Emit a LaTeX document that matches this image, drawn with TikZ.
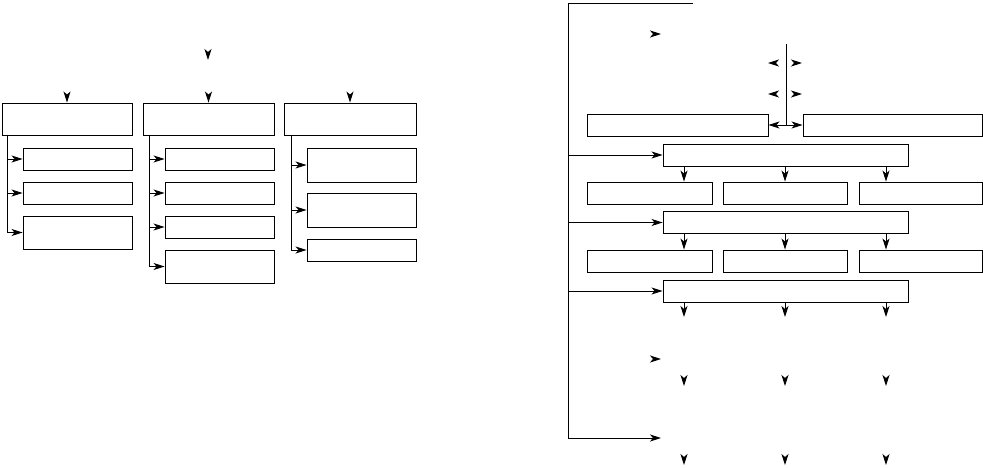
\documentclass[tikz,border=0pt]{standalone}
\usetikzlibrary{positioning}
\usetikzlibrary{calc}
\usetikzlibrary{arrows.meta}

\begin{document}
\begin{tikzpicture}[x=1pt,y=-1pt,>={Stealth[length=11pt,width=7pt,inset=3pt]},
				line width=0.9pt]
				\tikzstyle{box}=[draw,rectangle,inner sep=0pt,minimum height=22pt]
				\tikzstyle{ghost}=[draw=white,-{Stealth[length=11pt,width=7pt,inset=3pt,color=black]}]
				\useasboundingbox (0,0) rectangle (983,468);
				
				% left panel
				\node[box,minimum width=130pt,minimum height=32pt] (L1) at (67,119) {};
				\node[box,minimum width=131pt,minimum height=32pt] (L2) at (208.5,119) {};
				\node[box,minimum width=132pt,minimum height=32pt] (L3) at (350,119) {};
				
				\node[box,minimum width=109pt]                  (a1) at (77.5,159) {};
				\node[box,minimum width=109pt]                  (a2) at (77.5,193) {};
				\node[box,minimum width=109pt,minimum height=33pt] (a3) at (77.5,232.5) {};
				
				\node[box,minimum width=109pt]                  (b1) at (219.5,159) {};
				\node[box,minimum width=109pt]                  (b2) at (219.5,193) {};
				\node[box,minimum width=109pt]                  (b3) at (219.5,227) {};
				\node[box,minimum width=109pt,minimum height=33pt] (b4) at (219.5,266.5) {};
				
				\node[box,minimum width=109pt,minimum height=34pt] (c1) at (361.5,165) {};
				\node[box,minimum width=109pt,minimum height=34pt] (c2) at (361.5,210) {};
				\node[box,minimum width=109pt]                  (c3) at (361.5,250) {};
				
				\coordinate (top) at (208,36);
				\coordinate (mid) at (208,60);
				\coordinate (la) at (7,135);
				\coordinate (lb) at (149,135);
				\coordinate (lc) at (291,135);
				
				\path[ghost] (top) -- (mid);
				\path[ghost] (L1.north) ++(0,-20) -- (L1.north);
				\path[ghost] (L2.north) ++(0,-20) -- (L2.north);
				\path[ghost] (L3.north) ++(0,-20) -- (L3.north);
				
				\draw[->] (la) |- (a1.west);
				\draw[->] (la) |- (a2.west);
				\draw[->] (la) |- (a3.west);
				\draw[->] (lb) |- (b1.west);
				\draw[->] (lb) |- (b2.west);
				\draw[->] (lb) |- (b3.west);
				\draw[->] (lb) |- (b4.west);
				\draw[->] (lc) |- (c1.west);
				\draw[->] (lc) |- (c2.west);
				\draw[->] (lc) |- (c3.west);
				
				% right panel
				\node[box,minimum width=181pt] (R1) at (677.5,125) {};
				\node[box,minimum width=179pt] (R2) at (892.5,125) {};
				\node[box,minimum width=245pt] (A)  at (785.5,155) {};
				\node[box,minimum width=125pt] (D1) at (649.5,193) {};
				\node[box,minimum width=124pt] (D2) at (785,193) {};
				\node[box,minimum width=123pt] (D3) at (920.5,193) {};
				\node[box,minimum width=245pt] (B)  at (785.5,222.5) {};
				\node[box,minimum width=125pt] (E1) at (649.5,261) {};
				\node[box,minimum width=124pt] (E2) at (785,261) {};
				\node[box,minimum width=123pt] (E3) at (920.5,261) {};
				\node[box,minimum width=245pt] (C)  at (785.5,291) {};
				
				\coordinate (k1) at (684,0);
				\coordinate (k2) at (785,0);
				\coordinate (k3) at (886,0);
				\coordinate (s0) at (693,3);
				\coordinate (sp) at (568,3);
				\coordinate (sq) at (568,438);
				\coordinate (g1) at (661,34);
				\coordinate (g2) at (661,359);
				\coordinate (g3) at (661,438);
				\coordinate (v0) at (786,44);
				\coordinate (u1) at (0,317);
				\coordinate (u2) at (0,386);
				\coordinate (u3) at (0,465);
				
				\path[ghost] (g1) ++(-22,0) -- (g1);
				\path[ghost] (g2) ++(-22,0) -- (g2);
				\path[ghost] (782,63) -- (768,63);
				\path[ghost] (790,63) -- (802,63);
				\path[ghost] (782,94) -- (768,94);
				\path[ghost] (790,94) -- (802,94);
				
				\draw (v0) -- (v0 |- R1.east);
				\draw[<->] (R1.east) -- (R2.west);
				
				\draw[->] (s0) -- (sp) -- (sq) -- (g3);
				\draw[->] (sp |- A.west) -- (A.west);
				\draw[->] (sp |- B.west) -- (B.west);
				\draw[->] (sp |- C.west) -- (C.west);
				
				\foreach \k/\d/\e in {k1/D1/E1,k2/D2/E2,k3/D3/E3}{
					\draw[->] (A.south -| \k) -- (\d.north -| \k);
					\draw[->] (B.south -| \k) -- (\e.north -| \k);
					\draw[->] (C.south -| \k) -- (u1 -| \k);
					\path[ghost] (u2 -| \k) ++(0,-22) -- (u2 -| \k);
					\path[ghost] (u3 -| \k) ++(0,-22) -- (u3 -| \k);
				}
\end{tikzpicture}
\end{document}
